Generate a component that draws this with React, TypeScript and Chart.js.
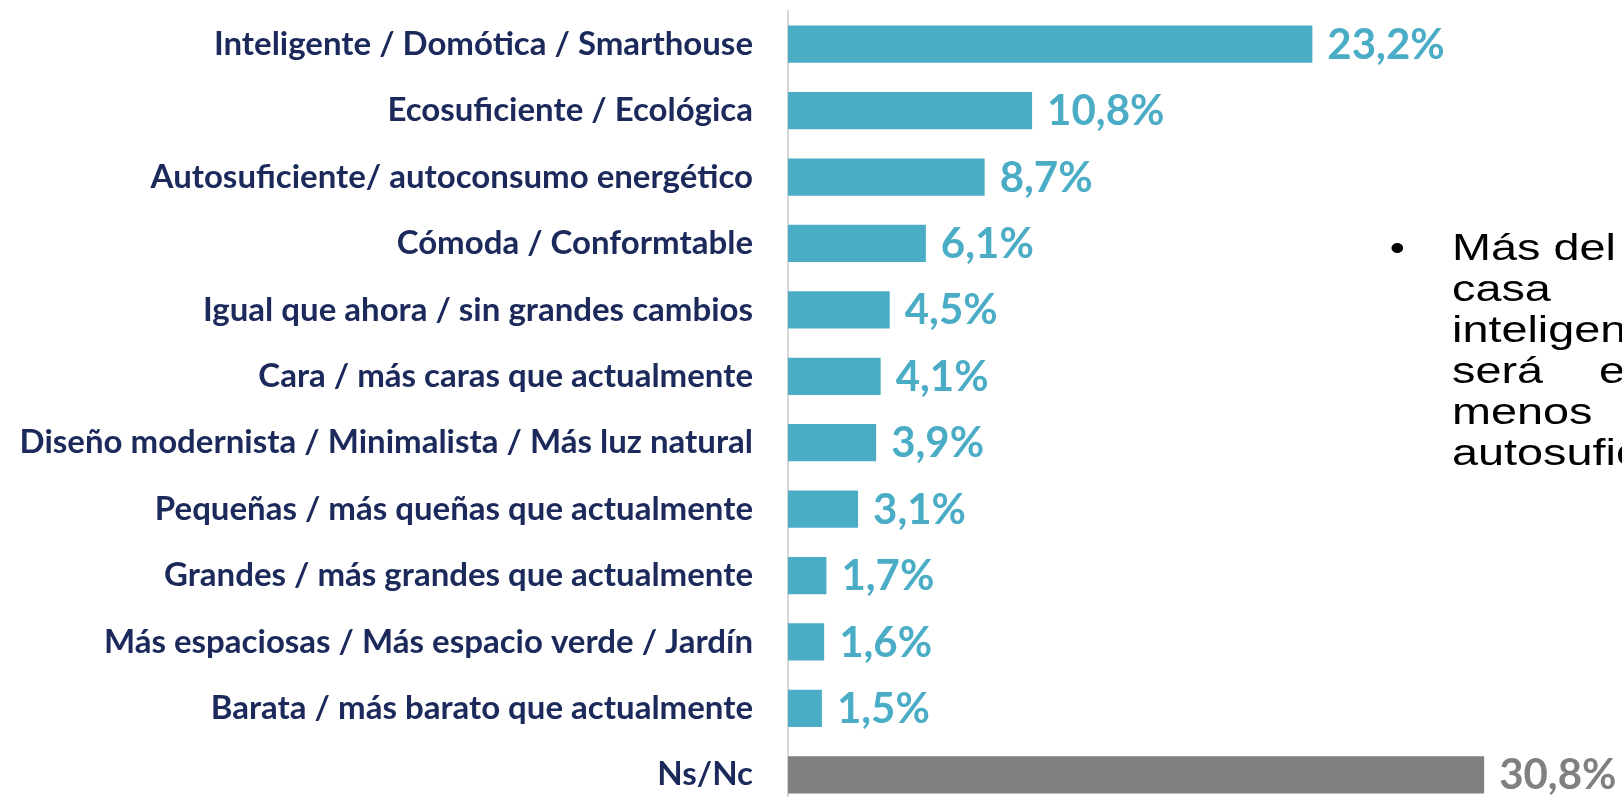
import React, { useEffect, useRef } from "react";
import { Chart, registerables } from "chart.js";

Chart.register(...registerables);

const categories = [
  "Inteligente / Domótica / Smarthouse",
  "Ecosuficiente / Ecológica",
  "Autosuficiente/ autoconsumo energético",
  "Cómoda / Conformtable",
  "Igual que ahora / sin grandes cambios",
  "Cara / más caras que actualmente",
  "Diseño modernista / Minimalista / Más luz natural",
  "Pequeñas / más queñas que actualmente",
  "Grandes / más grandes que actualmente",
  "Más espaciosas / Más espacio verde / Jardín",
  "Barata / más barato que actualmente",
  "Ns/Nc",
];

const values = [23.2, 10.8, 8.7, 6.1, 4.5, 4.1, 3.9, 3.1, 1.7, 1.6, 1.5, 30.8];

const valueLabels = [
  "23,2%", "10,8%", "8,7%", "6,1%", "4,5%", "4,1%",
  "3,9%", "3,1%", "1,7%", "1,6%", "1,5%", "30,8%",
];

const isNsNc = [false, false, false, false, false, false, false, false, false, false, false, true];

const noteLines = ["Más del", "casa", "inteligente", "será", "menos", "autosuficiente"];

const TEAL = "#4BACC6";
const GRAY = "#808080";
const NAVY = "#1C2A5B";

export default function App() {
  const canvasRef = useRef<HTMLCanvasElement | null>(null);

  useEffect(() => {
    const canvas = canvasRef.current;
    if (!canvas) return;

    const valueLabelPlugin = {
      id: "valueLabels",
      afterDatasetsDraw(chart: any) {
        const ctx = chart.ctx;
        const meta = chart.getDatasetMeta(0);
        ctx.save();
        ctx.textAlign = "left";
        ctx.textBaseline = "middle";
        meta.data.forEach((el: any, i: number) => {
          const gray = isNsNc[i];
          ctx.font = `bold 42px Lato, sans-serif`;
          ctx.fillStyle = gray ? GRAY : TEAL;
          ctx.fillText(valueLabels[i], el.x + 15, el.y + 1);
        });
        ctx.restore();
      },
    };

    const chart = new Chart(canvas, {
      type: "bar",
      data: {
        labels: categories,
        datasets: [
          {
            data: values,
            backgroundColor: isNsNc.map((g) => (g ? GRAY : TEAL)),
            borderWidth: 0,
            categoryPercentage: 1,
            barPercentage: 0.56,
          },
        ],
      },
      options: {
        indexAxis: "y",
        animation: false,
        responsive: false,
        layout: { padding: { top: 11, right: 0, bottom: 9, left: 0 } },
        plugins: {
          legend: { display: false },
          tooltip: { enabled: false },
          title: { display: false },
        },
        scales: {
          x: {
            display: false,
            min: 0,
            max: 36.9,
            grid: { display: false },
          },
          y: {
            grid: { display: false, drawTicks: true, tickLength: 35 },
            border: { display: true, color: "#D6D6D6", width: 2 },
            ticks: {
              color: NAVY,
              padding: 0,
              font: { family: "Lato, sans-serif", size: 33, weight: "bold", lineHeight: 0.5 },
            },
            afterFit(scale: any) {
              scale.width = 788;
            },
          },
        },
      },
      plugins: [valueLabelPlugin],
    });

    return () => chart.destroy();
  }, []);

  return (
    <div
      style={{
        position: "fixed",
        left: 0,
        top: 0,
        width: 1622,
        height: 797,
        overflow: "hidden",
        background: "#ffffff",
      }}
    >
      <canvas
        ref={canvasRef}
        width={1622}
        height={817}
        style={{ position: "absolute", left: 0, top: 0, width: 1622, height: 817 }}
      />
      <div
        style={{
          position: "absolute",
          left: 1390,
          top: 227,
          fontFamily: "'Liberation Sans', Arial, sans-serif",
          fontSize: 36,
          lineHeight: "41px",
          color: "#000000",
          whiteSpace: "nowrap",
        }}
      >
        <div style={{ position: "absolute", left: 1, top: 0, transform: "scaleX(1.2)" }}>•</div>
        {noteLines.map((line, i) => (
          <div
            key={i}
            style={{
              position: "absolute",
              left: 62,
              top: i * 41,
              transform: "scaleX(1.3)",
              transformOrigin: "0 0",
            }}
          >
            {line}
          </div>
        ))}
        <div
          style={{
            position: "absolute",
            left: 209,
            top: 3 * 41,
            transform: "scaleX(1.3)",
            transformOrigin: "0 0",
          }}
        >
          e
        </div>
      </div>
    </div>
  );
}
